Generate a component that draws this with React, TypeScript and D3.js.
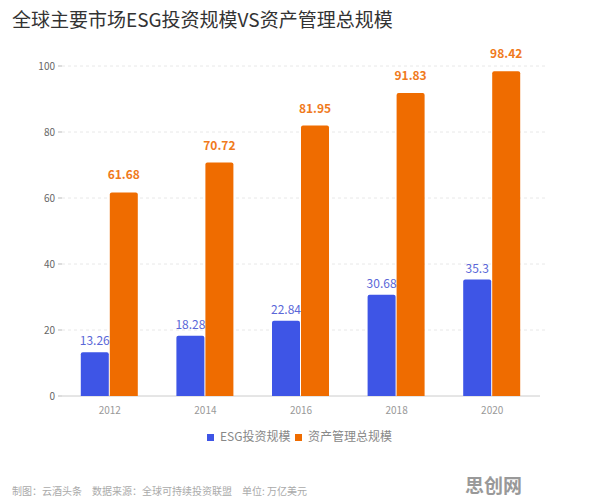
import React from "react";
import * as d3 from "d3";

const years = ["2012", "2014", "2016", "2018", "2020"];
const esgValues = [13.26, 18.28, 22.84, 30.68, 35.3];
const aumValues = [61.68, 70.72, 81.95, 91.83, 98.42];
const yTicks = [0, 20, 40, 60, 80, 100];
const seriesNames = ["ESG投资规模", "资产管理总规模"];

const W = 596;
const H = 502;
const BLUE = "#3e55e6";
const ORANGE = "#ef6c00";
const FONT = "'Noto Sans CJK SC', 'Noto Sans', sans-serif";

export default function App() {
  const x = d3.scaleBand<string>().domain(years).range([62, 540]).paddingInner(0).paddingOuter(0);
  const y = d3.scaleLinear().domain([0, 100]).range([396, 66]);
  const barW = 28;

  const roundTop = (x0: number, y0: number, w: number, h: number, r: number) => {
    const p = d3.path();
    p.moveTo(x0, y0 + h);
    p.lineTo(x0, y0 + r);
    p.quadraticCurveTo(x0, y0, x0 + r, y0);
    p.lineTo(x0 + w - r, y0);
    p.quadraticCurveTo(x0 + w, y0, x0 + w, y0 + r);
    p.lineTo(x0 + w, y0 + h);
    p.closePath();
    return p.toString();
  };

  return (
    <svg width={W} height={H} style={{ display: "block", position: "absolute", left: 0, top: 0 }} fontFamily={FONT}>
      <rect width={W} height={H} fill="#fff" />
      <text x={12} y={27} fontSize={19} fill="#333">全球主要市场ESG投资规模VS资产管理总规模</text>

      {yTicks.map((t) => (
        <g key={t}>
          {t > 0 && (
            <line x1={62} x2={548} y1={y(t)} y2={y(t)} stroke="#e8e8e8" strokeDasharray="3,3" />
          )}
          <line x1={58} x2={62} y1={y(t)} y2={y(t)} stroke="#bbb" />
          <text x={55} y={y(t)} dy="0.35em" textAnchor="end" fontSize={10} fill="#666">{t}</text>
        </g>
      ))}
      <line x1={62} x2={540} y1={y(0)} y2={y(0)} stroke="#ccc" />

      {years.map((yr, i) => {
        const c = (x(yr) as number) + x.bandwidth() / 2;
        const e = esgValues[i];
        const a = aumValues[i];
        return (
          <g key={yr}>
            <path d={roundTop(c - barW - 1, y(e), barW, y(0) - y(e), 2)} fill={BLUE} />
            <path d={roundTop(c, y(a), barW, y(0) - y(a), 2)} fill={ORANGE} />
            <text x={c - barW / 2 - 1} y={y(e) - 7} textAnchor="middle" fontSize={12} fill="#5a67d8">{e}</text>
            <text x={c + barW / 2} y={y(a) - 13} textAnchor="middle" fontSize={12} fontWeight="bold" fill="#f07a1c">{a}</text>
            <text x={c} y={414} textAnchor="middle" fontSize={10} fill="#999">{yr}</text>
          </g>
        );
      })}

      <g>
        <rect x={207} y={434} width={7} height={7} fill={BLUE} />
        <text x={220} y={441} fontSize={12} fill="#888">{seriesNames[0]}</text>
        <rect x={295} y={434} width={7} height={7} fill={ORANGE} />
        <text x={308} y={441} fontSize={12} fill="#888">{seriesNames[1]}</text>
      </g>

      <text x={12} y={495} fontSize={10} fill="#aaa">制图：云酒头条　数据来源：全球可持续投资联盟　单位: 万亿美元</text>
      <text x={465} y={493} fontSize={19} fontWeight="bold" fill="#999">思创网</text>
    </svg>
  );
}
